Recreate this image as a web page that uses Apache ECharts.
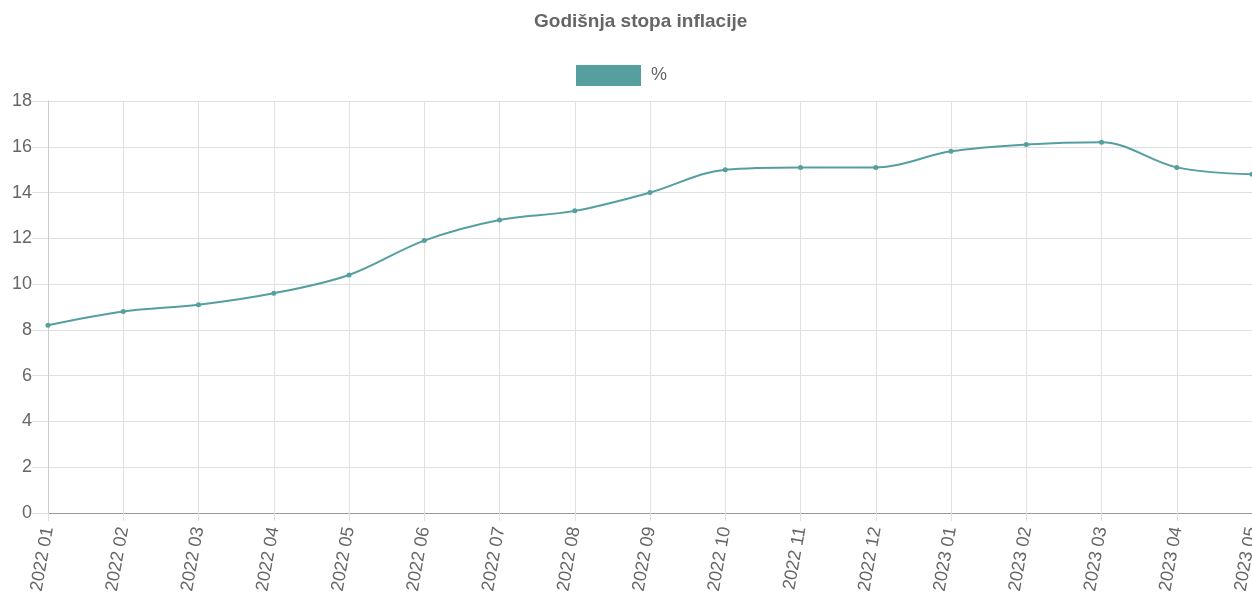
<!DOCTYPE html>
<html>
<head>
<meta charset="utf-8">
<script src="https://cdn.jsdelivr.net/npm/echarts@6/dist/echarts.min.js"></script>
<style>
html,body{margin:0;padding:0;background:#fff;}
#chart{width:1252px;height:597px;}
</style>
</head>
<body>
<div id="chart"></div>
<script>
var months = ['2022 01','2022 02','2022 03','2022 04','2022 05','2022 06','2022 07','2022 08','2022 09','2022 10','2022 11','2022 12','2023 01','2023 02','2023 03','2023 04','2023 05'];
var inflacija = [8.2, 8.8, 9.1, 9.6, 10.4, 11.9, 12.8, 13.2, 14.0, 15.0, 15.1, 15.1, 15.8, 16.1, 16.2, 15.1, 14.8];
var yTicks = [0, 18, 2];

var myChart = echarts.init(document.getElementById('chart'));
var gridCol = '#e0e0e0';
var option = {
	animation:false,
	textStyle:{fontFamily:'Liberation Sans, Arial, sans-serif'},
	title:{
		text:'Godišnja stopa inflacije',
		left:529,
		top:7,
		textStyle:{fontSize:19,fontWeight:'bold',color:'#666'}
	},
	legend:{
		data:['%'],
		top:60,
		left:571,
		itemWidth:65,
		itemHeight:21,
		icon:'rect',
		textStyle:{fontSize:18,color:'#666',padding:[0,0,0,5]}
	},
	grid:{left:48,right:0,top:101,bottom:84,containLabel:false,outerBoundsMode:'none'},
	xAxis:{
		type:'category',
		boundaryGap:false,
		data:months,
		axisLine:{lineStyle:{color:'#999'}},
		axisTick:{show:true,length:8,lineStyle:{color:gridCol}},
		splitLine:{show:true,lineStyle:{color:gridCol}},
		axisLabel:{rotate:80,fontSize:18,color:'#666',margin:14,interval:0,hideOverlap:false}
	},
	yAxis:{
		type:'value',
		min:yTicks[0],
		max:yTicks[1],
		interval:yTicks[2],
		axisLine:{show:true,lineStyle:{color:'#ccc'}},
		axisTick:{show:true,length:16,lineStyle:{color:gridCol}},
		splitLine:{show:true,lineStyle:{color:gridCol}},
		axisLabel:{fontSize:18,color:'#666',margin:16}
	},
	series:[{
		name:'%',
		type:'line',
		data:inflacija,
		smooth:0.35,
		symbol:'circle',
		symbolSize:5,
		itemStyle:{color:'#559f9f'},
		lineStyle:{color:'#559f9f',width:2}
	}]
};
myChart.setOption(option);
</script>
</body>
</html>
